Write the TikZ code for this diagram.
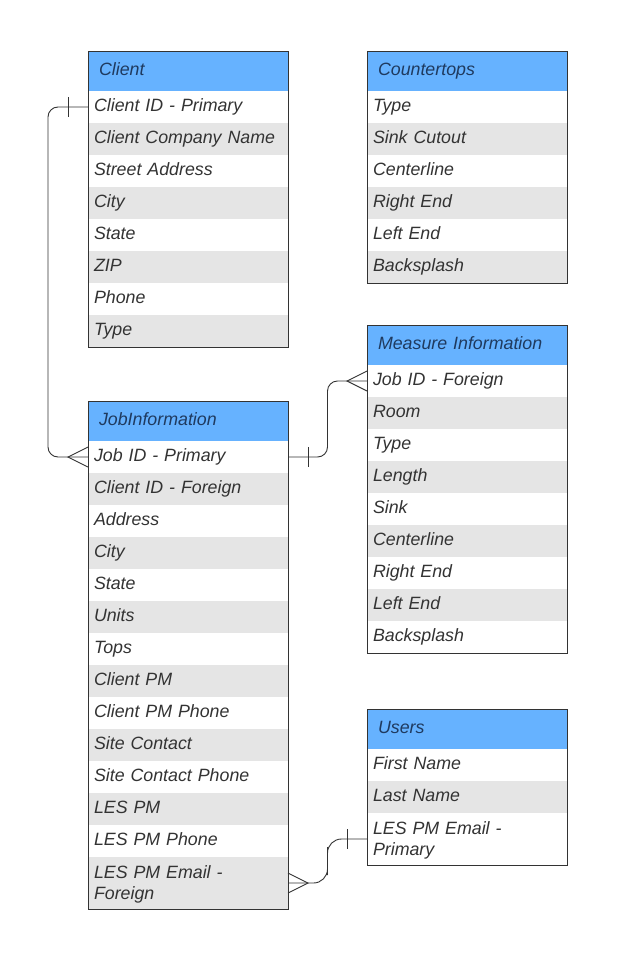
\documentclass[tikz,border=0pt]{standalone}
\usepackage{fontspec}
\setmainfont{Liberation Sans}
\usetikzlibrary{positioning,calc}

\definecolor{hdrblue}{HTML}{66B2FF}
\definecolor{rowgray}{HTML}{E5E5E5}
\definecolor{edgegray}{HTML}{333333}
\definecolor{hdrtext}{HTML}{1F3A5F}
\definecolor{rowtext}{HTML}{333333}

\tikzset{
  tfont/.style={font=\itshape\fontsize{17.8}{21}\selectfont,
    execute at begin node={\strut}},
  hdr/.style={tfont, draw=edgegray, line width=0.9pt, fill=hdrblue, text=hdrtext,
    anchor=north west, minimum width=200pt, minimum height=40pt,
    inner xsep=11pt, text width=178pt, align=left, outer sep=0pt},
  roww/.style={tfont, fill=white, text=rowtext, minimum width=200pt,
    minimum height=32pt, inner xsep=6pt, text width=188pt, align=left, outer sep=0pt},
  rowg/.style={roww, fill=rowgray},
  tall/.style={minimum height=52pt},
  frame/.style={draw=edgegray, line width=0.9pt},
  link/.style={draw=edgegray, line width=0.9pt},
}

\begin{document}
\begin{tikzpicture}[x=1pt, y=-1pt]

\useasboundingbox[fill=white] (0,0) rectangle (623,961);

% -------- Client -----------
\node[hdr] (client) at (88,51) {Client};
\node[roww, below=0pt of client] (c1) {Client ID - Primary};
\node[rowg, below=0pt of c1] (c2) {Client Company Name};
\node[roww, below=0pt of c2] (c3) {Street Address};
\node[rowg, below=0pt of c3] (c4) {City};
\node[roww, below=0pt of c4] (c5) {State};
\node[rowg, below=0pt of c5] (c6) {ZIP};
\node[roww, below=0pt of c6] (c7) {Phone};
\node[rowg, below=0pt of c7] (c8) {Type};
\draw[frame] (client.north west) rectangle (c8.south east);

% -------- Countertops -----------
\node[hdr] (counter) at (367,51) {Countertops};
\node[roww, below=0pt of counter] (t1) {Type};
\node[rowg, below=0pt of t1] (t2) {Sink Cutout};
\node[roww, below=0pt of t2] (t3) {Centerline};
\node[rowg, below=0pt of t3] (t4) {Right End};
\node[roww, below=0pt of t4] (t5) {Left End};
\node[rowg, below=0pt of t5] (t6) {Backsplash};
\draw[frame] (counter.north west) rectangle (t6.south east);

% -------- Measure Information -----------
\node[hdr] (measure) at (367,325) {Measure Information};
\node[roww, below=0pt of measure] (m1) {Job ID - Foreign};
\node[rowg, below=0pt of m1] (m2) {Room};
\node[roww, below=0pt of m2] (m3) {Type};
\node[rowg, below=0pt of m3] (m4) {Length};
\node[roww, below=0pt of m4] (m5) {Sink};
\node[rowg, below=0pt of m5] (m6) {Centerline};
\node[roww, below=0pt of m6] (m7) {Right End};
\node[rowg, below=0pt of m7] (m8) {Left End};
\node[roww, below=0pt of m8] (m9) {Backsplash};
\draw[frame] (measure.north west) rectangle (m9.south east);

% -------- JobInformation -----------
\node[hdr] (job) at (88,401) {JobInformation};
\node[roww, below=0pt of job] (j1) {Job ID - Primary};
\node[rowg, below=0pt of j1] (j2) {Client ID - Foreign};
\node[roww, below=0pt of j2] (j3) {Address};
\node[rowg, below=0pt of j3] (j4) {City};
\node[roww, below=0pt of j4] (j5) {State};
\node[rowg, below=0pt of j5] (j6) {Units};
\node[roww, below=0pt of j6] (j7) {Tops};
\node[rowg, below=0pt of j7] (j8) {Client PM};
\node[roww, below=0pt of j8] (j9) {Client PM Phone};
\node[rowg, below=0pt of j9] (j10) {Site Contact};
\node[roww, below=0pt of j10] (j11) {Site Contact Phone};
\node[rowg, below=0pt of j11] (j12) {LES PM};
\node[roww, below=0pt of j12] (j13) {LES PM Phone};
\node[rowg, tall, below=0pt of j13] (j14) {LES PM Email -\\Foreign};
\draw[frame] (job.north west) rectangle (j14.south east);

% -------- Users -----------
\node[hdr] (users) at (367,709) {Users};
\node[roww, below=0pt of users] (u1) {First Name};
\node[rowg, below=0pt of u1] (u2) {Last Name};
\node[roww, tall, below=0pt of u2] (u3) {LES PM Email -\\Primary};
\draw[frame] (users.north west) rectangle (u3.south east);

% -------- Links -----------
\draw[link, rounded corners=10pt] (c1.west) -| ($(j1.west)+(-40,0)$) -- (j1.west);
\draw[link] ($(c1.west)+(-20,-10)$) -- ($(c1.west)+(-20,10)$);
\draw[link] ($(j1.west)+(0,-10)$) -- ($(j1.west)+(-20,0)$) -- ($(j1.west)+(0,10)$);

\draw[link, rounded corners=10pt] (j1.east) -| ($(j1.east)!0.5!(m1.west)$) |- (m1.west);
\draw[link] ($(j1.east)+(20,-10)$) -- ($(j1.east)+(20,10)$);
\draw[link] ($(m1.west)+(0,-10)$) -- ($(m1.west)+(-20,0)$) -- ($(m1.west)+(0,10)$);

\draw[link, rounded corners=14pt] (u3.west) -| ($(u3.west)!0.5!(j14.east)$) |- (j14.east);
\draw[link] ($(u3.west)+(-20,-10)$) -- ($(u3.west)+(-20,10)$);
\draw[link] ($(j14.east)+(0,-10)$) -- ($(j14.east)+(20,0)$) -- ($(j14.east)+(0,10)$);

\end{tikzpicture}
\end{document}
